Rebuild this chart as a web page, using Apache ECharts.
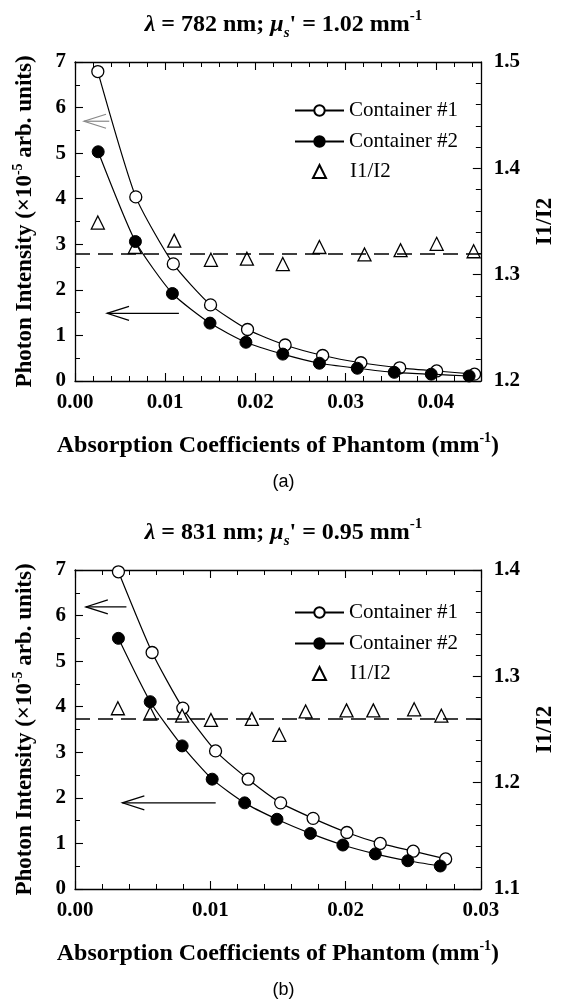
<!DOCTYPE html>
<html>
<head>
<meta charset="utf-8">
<script src="https://cdn.jsdelivr.net/npm/echarts@6/dist/echarts.min.js"></script>
<style>
  html, body { margin: 0; padding: 0; background: #fff; }
  #chart { width: 567px; height: 1000px; }
</style>
</head>
<body>
<div id="chart"></div>
<script>
// panel (a): lambda = 782 nm
const xA1 = [0.00253, 0.00674, 0.0109, 0.01503, 0.01913, 0.0233, 0.02746, 0.0317, 0.036, 0.0401, 0.0443];
const yA1 = [6.79, 4.04, 2.57, 1.67, 1.13, 0.79, 0.56, 0.40, 0.29, 0.22, 0.15];
const xA2 = [0.00257, 0.0067, 0.0108, 0.01497, 0.01895, 0.02304, 0.0271, 0.0313, 0.0354, 0.0395, 0.0437];
const yA2 = [5.03, 3.06, 1.92, 1.27, 0.85, 0.59, 0.39, 0.28, 0.19, 0.15, 0.11];
const xAr = [0.00253, 0.00663, 0.011, 0.01507, 0.01906, 0.02304, 0.0271, 0.0321, 0.0361, 0.0401, 0.0442];
const rA = [1.349, 1.326, 1.332, 1.314, 1.315, 1.310, 1.326, 1.319, 1.323, 1.329, 1.322];
const dashA = 1.3232;
// arrows: [head x, tail x, y]
const arrowsA = [[0.00355, 0.01152, 1.485]];
const faintArrowsA = [[0.001, 0.0038, 5.7]];

// panel (b): lambda = 831 nm
const xB1 = [0.00321, 0.0057, 0.00797, 0.01039, 0.0128, 0.0152, 0.0176, 0.0201, 0.02256, 0.025, 0.0274];
const yB1 = [6.96, 5.19, 3.97, 3.03, 2.41, 1.89, 1.55, 1.24, 1.0, 0.83, 0.66];
const xB2 = [0.00321, 0.00556, 0.00792, 0.01014, 0.01254, 0.01493, 0.0174, 0.0198, 0.0222, 0.0246, 0.027];
const yB2 = [5.50, 4.11, 3.14, 2.41, 1.89, 1.53, 1.22, 0.965, 0.77, 0.62, 0.505];
const xBr = [0.00317, 0.00556, 0.00792, 0.01005, 0.01307, 0.0151, 0.01705, 0.02007, 0.02205, 0.02507, 0.02708];
const rB = [1.270, 1.265, 1.263, 1.259, 1.260, 1.245, 1.267, 1.268, 1.268, 1.269, 1.263];
const dashB = 1.2615;
const arrowsB = [[0.0008, 0.0038, 6.19], [0.0035, 0.0104, 1.89]];

const lineNames = ['Container #1', 'Container #2'];
const ratioName = 'I1/I2';

const SERIF = '"Liberation Serif", "DejaVu Serif", serif';
const zip = (xs, ys) => xs.map((x, i) => [x, ys[i]]);

function nameStyle(size) {
  return {
    fontFamily: SERIF, fontSize: size, fontWeight: 'bold', color: '#000', lineHeight: size + 5,
    rich: { sup: { fontFamily: SERIF, fontSize: 14, fontWeight: 'bold', verticalAlign: 'top', lineHeight: 18, color: '#000' } }
  };
}
const labelStyle = { color: '#000', fontFamily: SERIF, fontSize: 21, fontWeight: 'bold' };
const lineCol = { color: '#000', width: 1.3 };

function fmtX(v) {
  const k = v / 0.01;
  return Math.abs(k - Math.round(k)) < 1e-6 ? v.toFixed(2) : '';
}

function xAxes(grid, max) {
  const base = {
    type: 'value', gridIndex: grid, min: 0, max: max, interval: 0.01,
    axisLine: { show: true, onZero: false, lineStyle: lineCol },
    axisTick: { inside: true, length: 8, lineStyle: { color: '#000', width: 1.1 } },
    minorTick: { show: true, splitNumber: 5, length: 5, lineStyle: { color: '#000', width: 1 } },
    splitLine: { show: false }, minorSplitLine: { show: false }
  };
  return [
    Object.assign({}, base, {
      position: 'bottom',
      axisLabel: Object.assign({ margin: 11, formatter: fmtX }, labelStyle),
      name: 'Absorption Coefficients of Phantom (mm{sup|-1})',
      nameLocation: 'middle', nameGap: 50, nameTextStyle: nameStyle(24)
    }),
    Object.assign({}, base, { position: 'top', axisLabel: { show: false } })
  ];
}

function yAxes(grid, rmin, rmax) {
  const common = {
    type: 'value', gridIndex: grid,
    axisLine: { show: true, onZero: false, lineStyle: lineCol },
    axisTick: { inside: true, length: 8, lineStyle: { color: '#000', width: 1.1 } },
    splitLine: { show: false }, minorSplitLine: { show: false }
  };
  return [
    Object.assign({}, common, {
      position: 'left', min: 0, max: 7, interval: 1,
      minorTick: { show: true, splitNumber: 2, length: 5, lineStyle: { color: '#000', width: 1 } },
      axisLabel: Object.assign({ margin: 9 }, labelStyle),
      name: 'Photon Intensity (×10{sup|-5} arb. units)',
      nameLocation: 'middle', nameRotate: 90, nameGap: 36, nameTextStyle: nameStyle(23)
    }),
    Object.assign({}, common, {
      position: 'right', min: rmin, max: rmax, interval: 0.1,
      minorTick: { show: true, splitNumber: 5, length: 5, lineStyle: { color: '#000', width: 1 } },
      axisLabel: Object.assign({ margin: 13, formatter: v => v.toFixed(1) }, labelStyle),
      name: 'I1/I2', nameLocation: 'middle', nameRotate: 90, nameGap: 44, nameTextStyle: nameStyle(23)
    })
  ];
}

function arrowSeries(name, data, xi, yi, color) {
  return {
    name: name, type: 'custom', xAxisIndex: xi, yAxisIndex: yi, data: data,
    encode: { x: [0, 1], y: 2 }, silent: true, z: 5,
    renderItem: function (params, api) {
      const h = api.coord([api.value(0), api.value(2)]);
      const t = api.coord([api.value(1), api.value(2)]);
      const st = { stroke: color, lineWidth: 1.2, fill: null };
      return {
        type: 'group', children: [
          { type: 'line', shape: { x1: h[0], y1: h[1], x2: t[0], y2: t[1] }, style: st },
          { type: 'polyline', shape: { points: [[h[0] + 22, h[1] - 7], [h[0], h[1]], [h[0] + 22, h[1] + 7]] }, style: st }
        ]
      };
    }
  };
}

function panelSeries(xi, yl, yr, d1, d2, dr, dash) {
  return [
    {
      name: lineNames[0], type: 'line', xAxisIndex: xi, yAxisIndex: yl, data: d1,
      smooth: 0.2, symbol: 'circle', symbolSize: 12, showAllSymbol: true,
      lineStyle: { color: '#000', width: 1.2 },
      itemStyle: { color: '#fff', borderColor: '#000', borderWidth: 1.3 }, z: 3
    },
    {
      name: lineNames[1], type: 'line', xAxisIndex: xi, yAxisIndex: yl, data: d2,
      smooth: 0.2, symbol: 'circle', symbolSize: 12, showAllSymbol: true,
      lineStyle: { color: '#000', width: 1.2 },
      itemStyle: { color: '#000', borderColor: '#000', borderWidth: 1 }, z: 4
    },
    {
      name: ratioName, type: 'scatter', xAxisIndex: xi, yAxisIndex: yr, data: dr,
      symbol: 'triangle', symbolSize: 13,
      itemStyle: { color: '#fff', borderColor: '#000', borderWidth: 1.3, opacity: 1 }, z: 3,
      markLine: {
        silent: true, symbol: ['none', 'none'], label: { show: false },
        lineStyle: { type: [15, 8], color: '#000', width: 1.5 },
        data: [{ yAxis: dash }]
      }
    }
  ];
}

const legendText = { fontFamily: SERIF, fontSize: 21, color: '#000' };
function legends(top) {
  return [
    {
      data: lineNames, orient: 'vertical', left: 289, top: top,
      itemWidth: 49, itemHeight: 13, itemGap: 10, selectedMode: false, textStyle: legendText
    },
    {
      data: [ratioName], orient: 'vertical', left: 307, top: top + 61,
      itemWidth: 13, itemHeight: 13, selectedMode: false,
      itemStyle: { opacity: 1 },
      textStyle: Object.assign({ padding: [0, 0, 0, 19] }, legendText)
    }
  ];
}

function titleText(lam, mus) {
  return '{i|λ} = ' + lam + ' nm; {i|μ}{sub|s}\' = ' + mus + ' mm{sup|-1}';
}
const titleStyle = {
  fontFamily: SERIF, fontSize: 24, fontWeight: 'bold', color: '#000', lineHeight: 32,
  rich: {
    i: { fontFamily: SERIF, fontSize: 24, fontWeight: 'bold', fontStyle: 'italic', lineHeight: 32, color: '#000' },
    sub: { fontFamily: SERIF, fontSize: 15, fontWeight: 'bold', fontStyle: 'italic', verticalAlign: 'bottom', lineHeight: 15, color: '#000' },
    sup: { fontFamily: SERIF, fontSize: 15, fontWeight: 'bold', verticalAlign: 'top', lineHeight: 21, color: '#000' }
  }
};
const capStyle = { fontFamily: '"Liberation Sans", Arial, sans-serif', fontSize: 18, fontWeight: 'normal', color: '#000' };

const chart = echarts.init(document.getElementById('chart'), null, { renderer: 'canvas' });
chart.setOption({
  animation: false,
  backgroundColor: '#fff',
  title: [
    { text: titleText('782', '1.02'), left: 'center', top: 4, textStyle: titleStyle },
    { text: '(a)', left: 'center', top: 468, textStyle: capStyle },
    { text: titleText('831', '0.95'), left: 'center', top: 512, textStyle: titleStyle },
    { text: '(b)', left: 'center', top: 976, textStyle: capStyle }
  ],
  grid: [
    { left: 75, top: 62, width: 413, height: 319 },
    { left: 75, top: 570, width: 413, height: 319 }
  ],
  legend: [].concat(legends(95), legends(597)),
  xAxis: [].concat(xAxes(0, 0.045), xAxes(1, 0.03)),
  yAxis: [].concat(yAxes(0, 1.2, 1.5), yAxes(1, 1.1, 1.4)),
  series: [].concat(
    panelSeries(0, 0, 1, zip(xA1, yA1), zip(xA2, yA2), zip(xAr, rA), dashA),
    [arrowSeries('arrowA', arrowsA, 0, 0, '#000'), arrowSeries('arrowAfaint', faintArrowsA, 0, 0, '#888')],
    panelSeries(2, 2, 3, zip(xB1, yB1), zip(xB2, yB2), zip(xBr, rB), dashB),
    [arrowSeries('arrowB', arrowsB, 2, 2, '#000')]
  )
});
</script>
</body>
</html>
